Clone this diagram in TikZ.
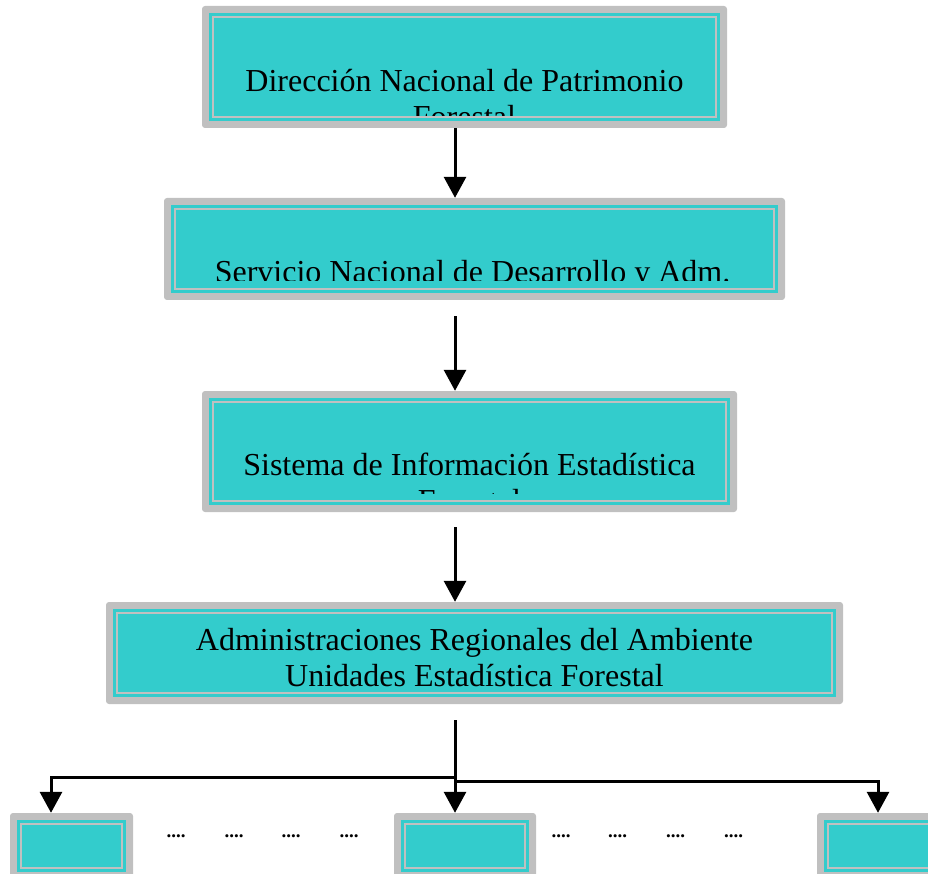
\documentclass[tikz,border=0pt]{standalone}
\usepackage{fontspec}
\setmainfont{Liberation Serif}
\usetikzlibrary{arrows.meta,calc}
\definecolor{boxcyan}{RGB}{51,204,204}
\definecolor{boxgray}{RGB}{192,192,192}
\tikzset{
  outerbox/.style={fill=boxgray, rounded corners=3pt, inner sep=0pt, draw=none},
  arr/.style={line width=3pt, -{Triangle[width=22pt,length=21pt]}},
  boxtext/.style={anchor=base, inner sep=0pt, font=\fontsize{32}{36}\selectfont},
  dotstext/.style={anchor=base, inner sep=0pt, font=\fontsize{19}{20}\selectfont\bfseries},
}
\newcommand\orgbox[5]{%
  \node[outerbox, minimum width=#4pt, minimum height=#5pt] (#1) at (#2,#3) {};
  \fill[boxcyan] ([shift={(7pt,-7pt)}]#1.north west) rectangle ([shift={(-7pt,7pt)}]#1.south east);
  \draw[boxgray, line width=2.5pt] ([shift={(11.25pt,-11.25pt)}]#1.north west) rectangle ([shift={(-11.25pt,11.25pt)}]#1.south east);
}
\begin{document}
\begin{tikzpicture}[x=1pt,y=-1pt]
\clip (0,0) rectangle (928,874);
\fill[white] (0,0) rectangle (928,874);
% boxes
\orgbox{b1}{464.5}{67}{525}{122}
\orgbox{b2}{474.5}{249}{621}{102}
\orgbox{b3}{469.5}{451.5}{535}{121}
\orgbox{b4}{474.5}{653}{737}{102}
\orgbox{bl}{71.5}{846}{123}{66}
\orgbox{bm}{465}{846}{142}{66}
\orgbox{br}{888}{846}{142}{66}
% texts (clipped)
\begin{scope}
  \clip (214,18) rectangle (715,116);
  \node[boxtext] (t1) at (464.5,92) {\parbox[t]{600pt}{\centering Dirección Nacional de Patrimonio\\Forestal}};
\end{scope}
\begin{scope}
  \clip (176,210) rectangle (773,281);
  \node[boxtext] (t2) at (472.5,283) {\parbox[t]{700pt}{\centering Servicio Nacional de Desarrollo y Adm.}};
\end{scope}
\begin{scope}
  \clip (214,403) rectangle (725,493);
  \node[boxtext] (t3) at (469.5,475) {\parbox[t]{600pt}{\centering Sistema de Información Estadística\\Forestal}};
\end{scope}
\begin{scope}
  \clip (118,614) rectangle (831,688);
  \node[boxtext] (t4) at (474.5,650) {\parbox[t]{800pt}{\centering Administraciones Regionales del Ambiente\\Unidades Estadística Forestal}};
\end{scope}
% connectors
\coordinate (ax) at (455,0);
\draw[arr] (b1.south -| ax) -- (b2.north -| ax);
\draw[arr, shorten <=16pt] (b2.south -| ax) -- (b3.north -| ax);
\draw[arr, shorten <=15pt] (b3.south -| ax) -- (b4.north -| ax);
\draw[arr, shorten <=16pt] (b4.south -| ax) -- (bm.north -| ax);
\coordinate (jl) at (455,777);
\coordinate (lx) at (51,777);
\coordinate (jr) at (455,781);
\coordinate (rx) at (878,781);
\draw[arr] (jl) -- (lx) -- (bl.north -| lx);
\draw[arr] (jr) -- (rx) -- (br.north -| rx);
% dots
\foreach \x [count=\i] in {176,234,291,349,561,617.5,675.5,733.5}
  \node[dotstext] (d\i) at (\x,837) {....};
\end{tikzpicture}
\end{document}
